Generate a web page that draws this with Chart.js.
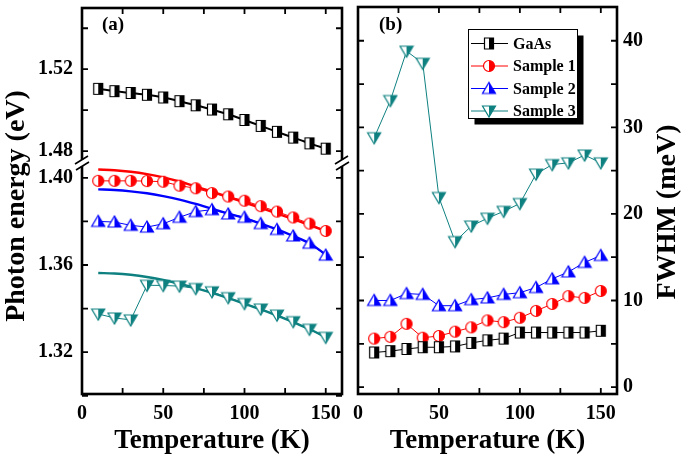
<!DOCTYPE html>
<html><head><meta charset="utf-8">
<script src="https://cdn.jsdelivr.net/npm/chart.js@4.4.1/dist/chart.umd.min.js"></script>
<style>
html,body{margin:0;padding:0;background:#fff;}
#wrap{position:relative;width:685px;height:459px;overflow:hidden;background:#fff;}
canvas{position:absolute;top:0;}
</style></head><body>
<div id="wrap">
<canvas id="cL" width="350" height="459" style="left:0px"></canvas>
<canvas id="cR" width="335" height="459" style="left:350px"></canvas>
</div>
<script>
// ---------------- data ----------------
const temperatures = [10,20,30,40,50,60,70,80,90,100,110,120,130,140,150];
const seriesNames = ['GaAs','Sample 1','Sample 2','Sample 3'];

// panel (a): PL peak photon energy (eV)
const peakGaAs    = [1.5104,1.5093,1.5084,1.5075,1.5062,1.5044,1.5024,1.5003,1.4980,1.4952,1.4923,1.4894,1.4866,1.4838,1.4812];
const peakSample1 = [1.3986,1.3986,1.3986,1.3985,1.3982,1.3964,1.3952,1.3930,1.3914,1.3895,1.3870,1.3845,1.3818,1.3790,1.3756];
const peakSample2 = [1.3800,1.3797,1.3782,1.3774,1.3789,1.3819,1.3845,1.3854,1.3834,1.3819,1.3790,1.3763,1.3733,1.3700,1.3645];
const peakSample3 = [1.3375,1.3357,1.3348,1.3507,1.3506,1.3503,1.3492,1.3477,1.3450,1.3423,1.3398,1.3370,1.3340,1.3305,1.3268];
// fitted curves
const fitSample1  = [1.4038,1.4035,1.4028,1.4017,1.4002,1.3983,1.3960,1.3936,1.3912,1.3887,1.3862,1.3836,1.3810,1.3783,1.3756];
const fitSample2  = [1.3947,1.3944,1.3938,1.3929,1.3916,1.3900,1.3880,1.3858,1.3836,1.3815,1.3790,1.3763,1.3733,1.3700,1.3648];
const fitSample3  = [1.3563,1.3561,1.3555,1.3545,1.3531,1.3514,1.3494,1.3472,1.3448,1.3422,1.3396,1.3368,1.3338,1.3305,1.3270];

// panel (b): FWHM (meV)
const fwhmGaAs    = [4.0,4.15,4.4,4.6,4.6,4.7,5.1,5.4,5.6,6.3,6.3,6.3,6.3,6.3,6.5];
const fwhmSample1 = [5.6,5.8,7.3,5.7,5.9,6.4,6.9,7.7,7.5,8.0,8.8,9.6,10.5,10.3,11.1];
const fwhmSample2 = [10.0,10.0,10.8,10.7,9.4,9.4,10.1,10.3,10.7,10.9,11.5,12.5,13.3,14.4,15.2];
const fwhmSample3 = [28.8,33.1,38.8,37.4,21.9,16.8,18.6,19.5,20.3,21.2,24.6,25.7,25.9,26.8,25.9];

// ticks
const xTickValues = [0,25,50,75,100,125,150];
const xTickLabels = ['0','50','100','150'];
const energyTicksUpper = [1.48,1.50,1.52,1.54];
const energyTicksLower = [1.30,1.32,1.34,1.36,1.38,1.40];
const energyTickLabels = ['1.32','1.36','1.40','1.48','1.52'];
const fwhmTickValues = [0,5,10,15,20,25,30,35,40];
const fwhmTickLabels = ['0','10','20','30','40'];

// ---------------- style ----------------
const COLORS = ['#000000','#ff0000','#0000ff','#0e8080'];
const SERIF = '"Liberation Serif", "Times New Roman", serif';
Chart.defaults.font.family = SERIF;
Chart.defaults.font.weight = 'bold';
Chart.defaults.font.size = 20;
Chart.defaults.color = '#000';

function makeMarker(shape, color){
  const w = 16, h = 16;
  const c = document.createElement('canvas'); c.width = w; c.height = h;
  const g = c.getContext('2d');
  const cx = w/2, cy = h/2;
  function path(){
    g.beginPath();
    if (shape === 'square') g.rect(cx-4.5, cy-5.5, 9, 11);
    else if (shape === 'circle') g.arc(cx, cy, 5.5, 0, Math.PI*2);
    else if (shape === 'up') { g.moveTo(cx, cy-6); g.lineTo(cx+6.5, cy+5); g.lineTo(cx-6.5, cy+5); g.closePath(); }
    else { g.moveTo(cx-6.5, cy-5); g.lineTo(cx+6.5, cy-5); g.lineTo(cx, cy+6); g.closePath(); }
  }
  path(); g.fillStyle = '#fff'; g.fill();
  g.save(); path(); g.clip(); g.fillStyle = color; g.fillRect(cx, 0, w, h); g.restore();
  path(); g.strokeStyle = color; g.lineWidth = 1.2; g.stroke();
  return c;
}
const MARKERS = [makeMarker('square',COLORS[0]), makeMarker('circle',COLORS[1]), makeMarker('up',COLORS[2]), makeMarker('down',COLORS[3])];

function pts(vals){ return temperatures.map((t,i)=>({x:t, y:vals[i]})); }

function xScale(){
  return {
    type:'linear', min:0, max:160,
    afterBuildTicks: s => { s.ticks = xTickValues.map(v=>({value:v})); },
    ticks:{ padding:8, autoSkip:false, maxRotation:0, callback: v => xTickLabels.includes(String(v)) ? String(v) : '' },
    grid:{display:false, drawTicks:false}, border:{display:false},
    title:{display:true, text:'Temperature (K)', font:{size:27, weight:'bold', lineHeight:1}, padding:{top:0,bottom:4}},
    afterFit: s => { s.height = 65; s.paddingLeft = 0; s.paddingRight = 0; }
  };
}
function energyAxis(ticks, min, max, weight){
  return {
    type:'linear', position:'left', stack:'energy', stackWeight:weight, min:min, max:max,
    afterBuildTicks: s => { s.ticks = ticks.map(v=>({value:v})); },
    ticks:{ padding:9, autoSkip:false, callback: v => { const t = Number(v).toFixed(2); return energyTickLabels.includes(t) ? t : ''; } },
    grid:{display:false, drawTicks:false}, border:{display:false},
    afterFit: s => { s.width = 82; s.paddingTop = 0; s.paddingBottom = 0; }
  };
}

function drawBreak(ctx, x, y){
  ctx.save();
  ctx.fillStyle = '#fff';
  ctx.fillRect(x-3, y-3, 6, 6);
  ctx.strokeStyle = '#000'; ctx.lineWidth = 1.6;
  ctx.beginPath();
  ctx.moveTo(x-7, y+1); ctx.lineTo(x+6, y-7);
  ctx.moveTo(x-6, y+7); ctx.lineTo(x+7, y-1);
  ctx.stroke();
  ctx.restore();
}

const TICK = 6;
const framePluginL = {
  id:'frameL',
  afterDatasetsDraw(chart){
    const {ctx, chartArea:a, scales} = chart;
    ctx.save();
    ctx.strokeStyle = '#000';
    ctx.lineWidth = 1.8;
    ctx.beginPath();
    for (const t of scales.x.ticks){
      const px = scales.x.getPixelForValue(t.value);
      ctx.moveTo(px, a.bottom); ctx.lineTo(px, a.bottom - TICK);
      ctx.moveTo(px, a.top); ctx.lineTo(px, a.top + TICK);
    }
    for (const id of ['yTop','yBot']){
      for (const t of scales[id].ticks){
        const py = scales[id].getPixelForValue(t.value);
        ctx.moveTo(a.left, py); ctx.lineTo(a.left + TICK, py);
        ctx.moveTo(a.right, py); ctx.lineTo(a.right - TICK, py);
      }
    }
    ctx.stroke();
    ctx.lineWidth = 2.6;
    ctx.strokeRect(a.left, a.top, a.right - a.left, a.bottom - a.top);
    const yb = scales.yTop.bottom;
    drawBreak(ctx, a.left, yb);
    drawBreak(ctx, a.right, yb);
    ctx.fillStyle = '#000';
    ctx.font = 'bold 19px ' + SERIF;
    ctx.textAlign = 'left'; ctx.textBaseline = 'middle';
    ctx.fillText('(a)', a.left + 20, 25);
    ctx.translate(17, 206);
    ctx.rotate(-Math.PI/2);
    ctx.font = 'bold 28px ' + SERIF;
    ctx.textAlign = 'center';
    ctx.fillText('Photon energy (eV)', 0, 0);
    ctx.restore();
  }
};

const framePluginR = {
  id:'frameR',
  afterDatasetsDraw(chart){
    const {ctx, chartArea:a, scales} = chart;
    ctx.save();
    ctx.strokeStyle = '#000';
    ctx.lineWidth = 1.8;
    ctx.beginPath();
    for (const t of scales.x.ticks){
      const px = scales.x.getPixelForValue(t.value);
      ctx.moveTo(px, a.bottom); ctx.lineTo(px, a.bottom - TICK);
      ctx.moveTo(px, a.top); ctx.lineTo(px, a.top + TICK);
    }
    for (const t of scales.y.ticks){
      const py = scales.y.getPixelForValue(t.value);
      ctx.moveTo(a.left, py); ctx.lineTo(a.left + TICK, py);
      ctx.moveTo(a.right, py); ctx.lineTo(a.right - TICK, py);
    }
    ctx.stroke();
    ctx.lineWidth = 2.6;
    ctx.strokeRect(a.left, a.top, a.right - a.left, a.bottom - a.top);

    // legend
    const bx = 118.5, by = 29.5, bw = 109, bh = 89;
    ctx.fillStyle = '#000';
    ctx.fillRect(bx + 6, by + 6, bw, bh);
    ctx.fillStyle = '#fff';
    ctx.fillRect(bx, by, bw, bh);
    ctx.lineWidth = 1;
    ctx.strokeRect(bx, by, bw, bh);
    const rows = [43.5, 66, 88.5, 111];
    ctx.font = 'bold 16px ' + SERIF;
    ctx.textAlign = 'left'; ctx.textBaseline = 'middle';
    seriesNames.forEach((name, i) => {
      const y = rows[i];
      ctx.strokeStyle = COLORS[i]; ctx.lineWidth = 1;
      ctx.beginPath(); ctx.moveTo(121, y); ctx.lineTo(158, y); ctx.stroke();
      const m = MARKERS[i];
      ctx.drawImage(m, 139 - m.width/2, y - m.height/2);
      ctx.fillStyle = '#000';
      ctx.fillText(name, 163, y + 1);
    });

    ctx.fillStyle = '#000';
    ctx.font = 'bold 19px ' + SERIF;
    ctx.fillText('(b)', a.left + 21, 25);
    ctx.translate(318, 212);
    ctx.rotate(-Math.PI/2);
    ctx.font = 'bold 28px ' + SERIF;
    ctx.textAlign = 'center';
    ctx.fillText('FWHM (meV)', 0, 0);
    ctx.restore();
  }
};

const commonOpts = {
  responsive:false, animation:false, devicePixelRatio:1,
  plugins:{legend:{display:false}, tooltip:{enabled:false}},
  events:[]
};

function dataSet(label, vals, i, axis, extra){
  return Object.assign({
    label, data: pts(vals), yAxisID: axis,
    borderColor: COLORS[i], backgroundColor: COLORS[i], borderWidth: 1,
    pointStyle: MARKERS[i], pointRadius: 6, tension: 0, clip: false
  }, extra || {});
}
function fitSet(label, vals, i){
  return {
    label, data: pts(vals), yAxisID: 'yBot',
    borderColor: COLORS[i], borderWidth: 2.4, pointRadius: 0, tension: 0.4,
    cubicInterpolationMode: 'monotone'
  };
}

new Chart(document.getElementById('cL'), {
  type:'line',
  data:{ datasets:[
    dataSet(seriesNames[0], peakGaAs, 0, 'yTop', {borderWidth:2, tension:0.3}),
    dataSet(seriesNames[1], peakSample1, 1, 'yBot'),
    dataSet(seriesNames[2], peakSample2, 2, 'yBot'),
    dataSet(seriesNames[3], peakSample3, 3, 'yBot'),
    fitSet('fit 1', fitSample1, 1),
    fitSet('fit 2', fitSample2, 2),
    fitSet('fit 3', fitSample3, 3)
  ]},
  options: Object.assign({}, commonOpts, {
    layout:{padding:{left:0, top:3, right:5, bottom:0}},
    scales:{
      x: xScale(),
      yBot: energyAxis(energyTicksLower, 1.3008, 1.4068, 234),
      yTop: energyAxis(energyTicksUpper, 1.4742, 1.5499, 157)
    }
  }),
  plugins:[framePluginL]
});

new Chart(document.getElementById('cR'), {
  type:'line',
  data:{ datasets:[
    dataSet(seriesNames[0], fwhmGaAs, 0, 'y'),
    dataSet(seriesNames[1], fwhmSample1, 1, 'y'),
    dataSet(seriesNames[2], fwhmSample2, 2, 'y'),
    dataSet(seriesNames[3], fwhmSample3, 3, 'y')
  ]},
  options: Object.assign({}, commonOpts, {
    layout:{padding:{left:8, top:3, right:0, bottom:0}},
    scales:{
      x: xScale(),
      y: {
        type:'linear', position:'right', min:-0.8, max:43.9,
        afterBuildTicks: s => { s.ticks = fwhmTickValues.map(v=>({value:v})); },
        ticks:{ padding:6, autoSkip:false, callback: v => fwhmTickLabels.includes(String(v)) ? String(v) : '' },
        grid:{display:false, drawTicks:false}, border:{display:false},
        afterFit: s => { s.width = 68; s.paddingTop = 0; s.paddingBottom = 0; }
      }
    }
  }),
  plugins:[framePluginR]
});
</script>
</body></html>
